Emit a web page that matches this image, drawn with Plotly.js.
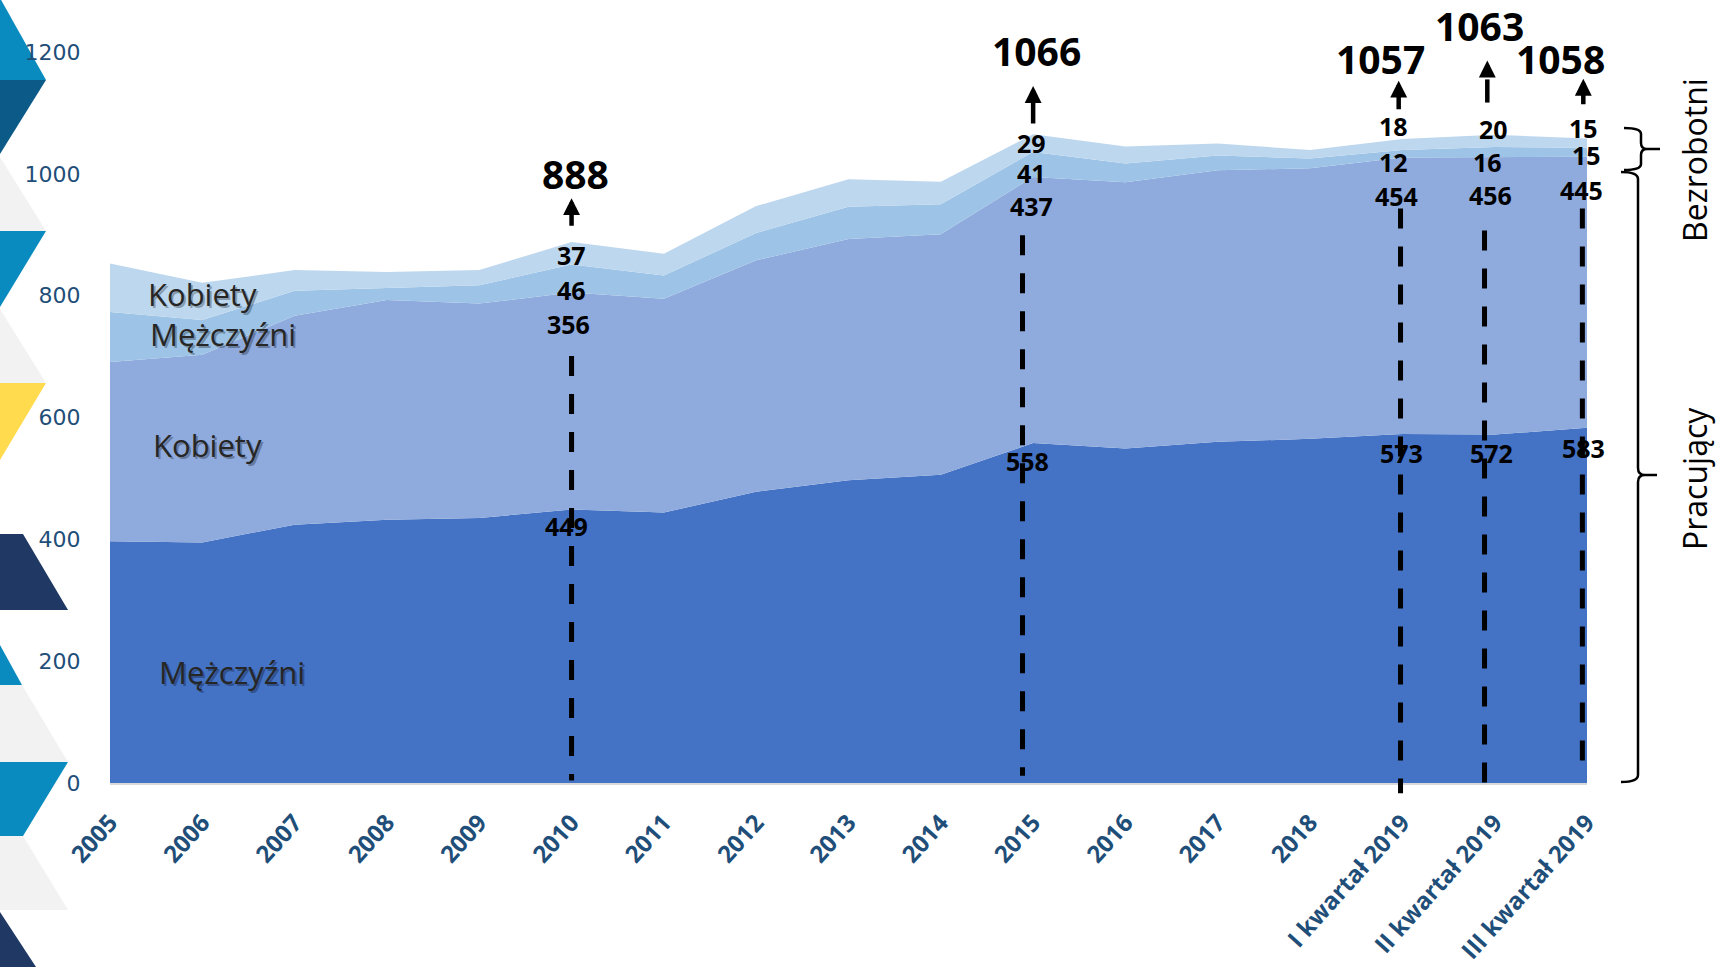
<!DOCTYPE html>
<html>
<head>
<meta charset="utf-8">
<script src="https://cdn.plot.ly/plotly-3.0.1.min.js"></script>
<style>
  html, body { margin: 0; padding: 0; background: #fff; }
  #chart { width: 1718px; height: 967px; }
</style>
</head>
<body>
<div id="chart"></div>
<script>
// ---------------- DATA ----------------
const categories = ['2005','2006','2007','2008','2009','2010','2011','2012','2013','2014','2015','2016','2017','2018','I kwartał 2019','II kwartał 2019','III kwartał 2019'];
const pracujacyMezczyzni = [397, 395, 424, 432, 435, 449, 444, 478, 497, 506, 558, 549, 560, 565, 573, 572, 583];
const pracujacyKobiety   = [294, 308, 343, 361, 352, 356, 351, 380, 396, 395, 437, 437, 446, 444, 454, 456, 445];
const bezrobotniMezczyzni = [82, 57, 41, 20, 30, 46, 38, 45, 53, 49, 41, 31, 24, 16, 12, 16, 15];
const bezrobotniKobiety   = [80, 61, 34, 26, 25, 37, 36, 44, 45, 37, 29, 28, 20, 14, 18, 20, 15];
const labelledIdx = [5, 10, 14, 15, 16];
const totalLabels = [888, 1066, 1057, 1063, 1058];
const yTicks = [0, 200, 400, 600, 800, 1000, 1200];

// ---------------- LAYOUT HELPERS ----------------
const M = {l: 110, r: 131, t: 52, b: 184};
const PW = 1718 - M.l - M.r, PH = 967 - M.t - M.b;
const PX = px => (px - M.l) / PW;
const PY = py => (967 - M.b - py) / PH;
const YMAX = 1200;

const colors = {pm: '#4472C4', pk: '#8FAADC', bm: '#9DC3E6', bk: '#BDD7EE'};
const tickBlue = '#1F4E79';

function area(name, y, color) {
  return {
    x: categories, y: y, name: name, type: 'scatter', mode: 'lines',
    stackgroup: 'one', fillcolor: color, line: {width: 0, color: color},
    hoverinfo: 'skip', showlegend: false
  };
}
const traces = [
  area('Pracujący – Mężczyźni', pracujacyMezczyzni, colors.pm),
  area('Pracujący – Kobiety', pracujacyKobiety, colors.pk),
  area('Bezrobotni – Mężczyźni', bezrobotniMezczyzni, colors.bm),
  area('Bezrobotni – Kobiety', bezrobotniKobiety, colors.bk)
];

// ---------------- ANNOTATIONS ----------------
const ann = [];
const numFont = {family: 'Open Sans, sans-serif', size: 25, color: '#000', weight: 700};
function num(xi, y, v, dx) {
  ann.push({x: xi + (dx || 0), y: y, xref: 'x', yref: 'y', text: String(v), showarrow: false, font: numFont});
}
// label positions (value-axis units) for each labelled category
const labelY = {
  5:  {bk: 866, bm: 810, pk: 754, pm: 422, dx: [0, 0, -0.03, -0.06]},
  10: {bk: 1050, bm: 1002, pk: 948, pm: 528, dx: [-0.02, -0.02, -0.02, -0.06]},
  14: {bk: 1079, bm: 1020, pk: 963, pm: 541, dx: [-0.1, -0.1, -0.06, -0.01]},
  15: {bk: 1074, bm: 1020, pk: 966, pm: 541, dx: [-0.01, -0.08, -0.05, -0.03]},
  16: {bk: 1076, bm: 1031, pk: 973, pm: 550, dx: [-0.04, -0.01, -0.06, -0.04]}
};
labelledIdx.forEach(i => {
  const p = labelY[i];
  num(i, p.bk, bezrobotniKobiety[i], p.dx[0]);
  num(i, p.bm, bezrobotniMezczyzni[i], p.dx[1]);
  num(i, p.pk, pracujacyKobiety[i], p.dx[2]);
  num(i, p.pm, pracujacyMezczyzni[i], p.dx[3]);
});
// totals (placed in paper units so labels above the top of the value axis are kept)
const totalPos = [[5.04, 1001], [10.04, 1202], [13.76, 1189], [14.84, 1243], [15.71, 1189]];
totalLabels.forEach((t, k) => {
  ann.push({x: totalPos[k][0], y: totalPos[k][1] / YMAX, xref: 'x', yref: 'paper', yanchor: 'middle',
    text: String(t), showarrow: false,
    font: {family: 'Open Sans, sans-serif', size: 39, color: '#000', weight: 700}});
});
// arrows (head position, tail length in px)
const arrows = [[5.0, 960, 29], [10.0, 1144, 39], [13.96, 1153, 30], [15.96, 1156, 27]];
arrows.forEach(a => {
  ann.push({x: a[0], y: a[1], xref: 'x', yref: 'y', ax: 0, ay: a[2], text: '', showarrow: true,
    arrowhead: 2, arrowsize: 0.75, arrowwidth: 4.5, arrowcolor: '#000'});
});
ann.push({x: 14.92, y: 1186, xref: 'x', yref: 'y', ax: 0, ay: 7, text: '', showarrow: true,
  arrowhead: 2, arrowsize: 0.75, arrowwidth: 4.5, arrowcolor: '#000'});

// series name labels inside areas (with soft shadow)
const nameFont = {family: 'Open Sans, sans-serif', size: 31, color: '#262626'};
function nameLabel(x, y, t) {
  ann.push({x: x, y: y, xref: 'x', yref: 'y', text: t, showarrow: false, xshift: 2, yshift: -2,
    font: Object.assign({}, nameFont, {color: 'rgba(0,0,0,0.28)'})});
  ann.push({x: x, y: y, xref: 'x', yref: 'y', text: t, showarrow: false, font: nameFont});
}
nameLabel(1.0, 802, 'Kobiety');
nameLabel(1.22, 737, 'Mężczyźni');
nameLabel(1.06, 555, 'Kobiety');
nameLabel(1.32, 183, 'Mężczyźni');

// right side group titles
ann.push({x: PX(1694), y: PY(160), xref: 'paper', yref: 'paper', xanchor: 'center', yanchor: 'middle',
  text: 'Bezrobotni', textangle: -90, showarrow: false,
  font: {family: 'Open Sans, sans-serif', size: 32, color: '#000'}});
ann.push({x: PX(1694), y: PY(479), xref: 'paper', yref: 'paper', xanchor: 'center', yanchor: 'middle',
  text: 'Pracujący', textangle: -90, showarrow: false,
  font: {family: 'Open Sans, sans-serif', size: 32, color: '#000'}});

// ---------------- SHAPES ----------------
const shapes = [];
// vertical dashed lines [x index, top value, bottom value]
const dashLines = [[5.0, 701, 4], [9.885, 899, 12], [13.98, 943, -17], [14.89, 907, -17], [15.95, 943, 27]];
dashLines.forEach(d => {
  shapes.push({type: 'line', xref: 'x', yref: 'paper', x0: d[0], x1: d[0], y0: d[1] / YMAX, y1: d[2] / YMAX,
    line: {color: '#000', width: 5, dash: '20px,18px'}, layer: 'above'});
});
// dashed shaft under II kw arrow head
shapes.push({type: 'line', xref: 'x', yref: 'paper', x0: 14.92, x1: 14.92, y0: 1155 / YMAX, y1: 1117 / YMAX,
  line: {color: '#000', width: 4.5}, layer: 'above'});

// curly braces
function brace(x0, x1, xt, top, mid, bot, r) {
  const X = PX, Y = PY;
  return 'M' + X(x0) + ',' + Y(top) +
    ' Q' + X(x1) + ',' + Y(top) + ' ' + X(x1) + ',' + Y(top + r) +
    ' L' + X(x1) + ',' + Y(mid - r) +
    ' Q' + X(x1) + ',' + Y(mid) + ' ' + X(x1 + r) + ',' + Y(mid) +
    ' L' + X(xt) + ',' + Y(mid) +
    ' M' + X(x1 + r) + ',' + Y(mid) +
    ' Q' + X(x1) + ',' + Y(mid) + ' ' + X(x1) + ',' + Y(mid + r) +
    ' L' + X(x1) + ',' + Y(bot - r) +
    ' Q' + X(x1) + ',' + Y(bot) + ' ' + X(x0) + ',' + Y(bot);
}
shapes.push({type: 'path', xref: 'paper', yref: 'paper', path: brace(1624, 1641, 1660, 128, 149, 170, 6),
  line: {color: '#000', width: 2.5}, fillcolor: 'rgba(0,0,0,0)'});
shapes.push({type: 'path', xref: 'paper', yref: 'paper', path: brace(1621, 1638, 1657, 172, 475, 782, 7),
  line: {color: '#000', width: 2.5}, fillcolor: 'rgba(0,0,0,0)'});

// left decorative triangles
function poly(pts, color) {
  const d = pts.map((p, i) => (i ? 'L' : 'M') + PX(p[0]) + ',' + PY(p[1])).join(' ') + ' Z';
  shapes.push({type: 'path', xref: 'paper', yref: 'paper', path: d, fillcolor: color, line: {width: 0}, layer: 'below'});
}
const teal = '#0A8BBF', navyBlue = '#0B5A88', navy = '#1F3864', grey = '#F2F2F2', yellow = '#FFDB4D';
poly([[0, -2], [46, 80], [0, 80]], teal);
poly([[0, 80], [46, 80], [0, 154]], navyBlue);
poly([[0, 157], [46, 231], [0, 231]], grey);
poly([[0, 231], [46, 231], [0, 307]], teal);
poly([[0, 309], [46, 383], [0, 383]], grey);
poly([[0, 383], [46, 383], [0, 460]], yellow);
poly([[0, 534], [23, 534], [68, 610], [0, 610]], navy);
poly([[0, 645], [22, 685], [0, 685]], teal);
poly([[0, 685], [22, 685], [68, 762], [0, 762]], grey);
poly([[0, 762], [68, 762], [23, 836], [0, 836]], teal);
poly([[0, 836], [23, 836], [68, 910], [0, 910]], grey);
poly([[0, 912], [36, 967], [0, 967]], navy);

// ---------------- LAYOUT ----------------
const layout = {
  width: 1718, height: 967,
  margin: M,
  paper_bgcolor: '#ffffff', plot_bgcolor: '#ffffff',
  showlegend: false,
  xaxis: {
    type: 'category', range: [0, 16], showgrid: false, zeroline: false,
    showline: true, linecolor: '#D9D9D9', linewidth: 2,
    ticks: 'outside', ticklen: 14, tickcolor: 'rgba(0,0,0,0)',
    tickangle: -48,
    tickfont: {family: 'Open Sans, sans-serif', size: 24, color: tickBlue, weight: 700}
  },
  yaxis: {
    range: [0, YMAX], tickvals: yTicks, ticktext: yTicks.map(String),
    showgrid: false, zeroline: false, showline: false,
    ticks: 'outside', ticklen: 24, tickcolor: 'rgba(0,0,0,0)',
    tickfont: {family: 'DejaVu Sans, sans-serif', size: 22, color: tickBlue}
  },
  annotations: ann,
  shapes: shapes
};

Plotly.newPlot('chart', traces, layout, {displayModeBar: false, staticPlot: true});
</script>
</body>
</html>
